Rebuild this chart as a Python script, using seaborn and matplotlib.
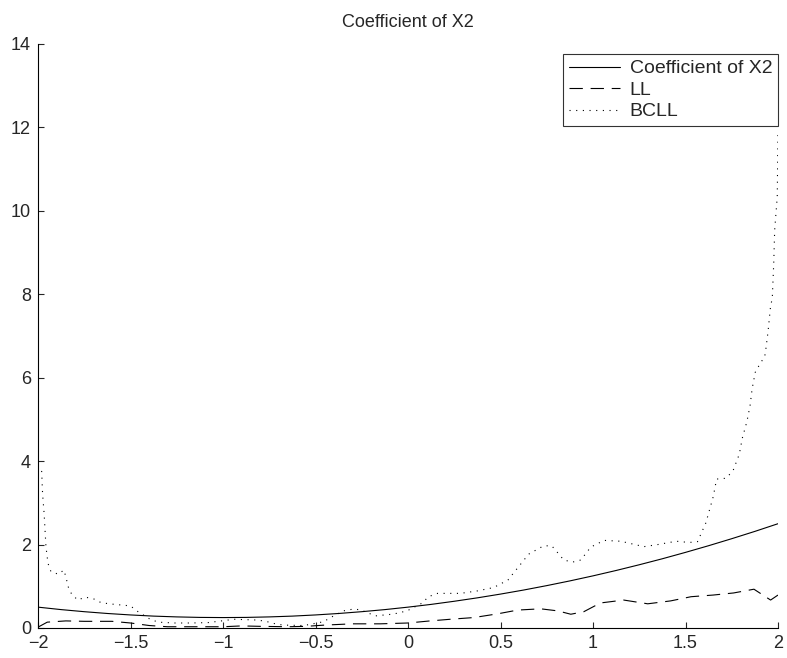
import numpy as np
import pandas as pd
import matplotlib
matplotlib.use("Agg")
import matplotlib.pyplot as plt
import seaborn as sns

# Coefficient of X2 (true curve)
x_true = [-2.0, -1.875, -1.75, -1.625, -1.5, -1.375, -1.25, -1.125, -1.0,
          -0.875, -0.75, -0.625, -0.5, -0.375, -0.25, -0.125, 0.0,
          0.125, 0.25, 0.375, 0.5, 0.625, 0.75, 0.875, 1.0,
          1.125, 1.25, 1.375, 1.5, 1.625, 1.75, 1.875, 2.0]
y_true = [0.50, 0.441, 0.391, 0.348, 0.313, 0.285, 0.266, 0.254, 0.25,
          0.254, 0.266, 0.285, 0.313, 0.348, 0.391, 0.441, 0.50,
          0.566, 0.641, 0.723, 0.813, 0.910, 1.016, 1.129, 1.25,
          1.379, 1.516, 1.660, 1.813, 1.973, 2.141, 2.316, 2.50]

# LL estimate
x_ll = [-2.0, -1.95, -1.85, -1.75, -1.6, -1.5, -1.4, -1.3, -1.15, -1.0,
        -0.9, -0.8, -0.65, -0.55, -0.45, -0.3, -0.15, 0.0, 0.12, 0.23,
        0.355, 0.485, 0.593, 0.717, 0.81, 0.88, 0.95, 1.04, 1.166, 1.296,
        1.42, 1.53, 1.65, 1.76, 1.87, 1.96, 2.0]
y_ll = [0.02, 0.14, 0.17, 0.16, 0.16, 0.12, 0.06, 0.03, 0.03, 0.03,
        0.05, 0.04, 0.03, 0.04, 0.07, 0.10, 0.10, 0.12, 0.17, 0.21,
        0.25, 0.34, 0.43, 0.46, 0.41, 0.33, 0.39, 0.60, 0.67, 0.58,
        0.65, 0.75, 0.79, 0.84, 0.93, 0.67, 0.79]

# BCLL estimate
x_bcll = [-2.0, -1.98, -1.977, -1.975, -1.967, -1.962, -1.957, -1.946, -1.93,
          -1.89, -1.86, -1.848, -1.836, -1.818, -1.785, -1.745, -1.70, -1.66,
          -1.616, -1.547, -1.50, -1.466, -1.394, -1.35, -1.26, -1.17, -1.08,
          -0.99, -0.944, -0.81, -0.76, -0.717, -0.674, -0.58, -0.55, -0.457,
          -0.41, -0.35, -0.30, -0.26, -0.176, -0.133, -0.086, -0.04, 0.003,
          0.078, 0.11, 0.16, 0.284, 0.376, 0.463, 0.54, 0.598, 0.652, 0.733,
          0.777, 0.81, 0.842, 0.89, 0.934, 0.988, 1.06, 1.15, 1.275, 1.35,
          1.45, 1.52, 1.565, 1.61, 1.65, 1.659, 1.668, 1.719, 1.757, 1.791,
          1.807, 1.832, 1.849, 1.86, 1.877, 1.906, 1.928, 1.935, 1.946, 1.96,
          1.969, 1.977, 1.982, 1.996, 2.0]
y_bcll = [3.9, 3.75, 3.4, 3.2, 2.75, 2.35, 1.95, 1.55, 1.35,
          1.29, 1.39, 1.2, 0.98, 0.81, 0.67, 0.74, 0.70, 0.61,
          0.58, 0.55, 0.53, 0.41, 0.21, 0.14, 0.12, 0.12, 0.13,
          0.18, 0.21, 0.19, 0.15, 0.10, 0.07, 0.06, 0.07, 0.15,
          0.27, 0.41, 0.45, 0.44, 0.29, 0.31, 0.33, 0.37, 0.43,
          0.60, 0.75, 0.83, 0.83, 0.89, 0.97, 1.15, 1.47, 1.77, 1.97,
          1.97, 1.80, 1.63, 1.58, 1.63, 1.94, 2.10, 2.08, 1.95, 2.0,
          2.08, 2.05, 2.07, 2.52, 3.15, 3.36, 3.57, 3.59, 3.77, 4.17,
          4.55, 4.95, 5.33, 5.73, 6.13, 6.36, 6.5, 6.71, 7.1, 7.72,
          7.9, 8.75, 9.54, 10.34, 11.94]

sns.set_style("ticks")
plt.rcParams["font.family"] = ["Liberation Sans", "DejaVu Sans"]

fig = plt.figure(figsize=(7.87, 6.58), dpi=100)
ax = fig.add_axes([38 / 787, 30 / 658, 740 / 787, 584 / 658])

sns.lineplot(x=x_true, y=y_true, ax=ax, color="black", lw=0.8,
             label="Coefficient of X2", estimator=None, sort=False)
sns.lineplot(x=x_ll, y=y_ll, ax=ax, color="black", lw=0.8,
             linestyle=(0, (12, 7)), label="LL", estimator=None, sort=False)
sns.lineplot(x=x_bcll, y=y_bcll, ax=ax, color="black", lw=0.8,
             linestyle=(0, (1, 5)), label="BCLL", estimator=None, sort=False)

ax.set_xlim(-2, 2)
ax.set_ylim(0, 14)
ax.set_xticks([-2, -1.5, -1, -0.5, 0, 0.5, 1, 1.5, 2])
ax.set_xticklabels(["\u22122", "\u22121.5", "\u22121", "\u22120.5", "0", "0.5", "1", "1.5", "2"])
ax.set_yticks(range(0, 15, 2))
ax.tick_params(direction="in", length=4.5, width=0.8, labelsize=13, pad=5)
sns.despine(ax=ax)
for s in ["left", "bottom"]:
    ax.spines[s].set_linewidth(0.8)
    ax.spines[s].set_color("black")

ax.set_title("Coefficient of X2", fontsize=13, pad=12)
ax.set_xlabel("")
ax.set_ylabel("")

leg = ax.legend(loc="upper right", bbox_to_anchor=(1.0, 0.983), fontsize=14,
                frameon=True, fancybox=False, handlelength=2.6,
                borderaxespad=0.0, labelspacing=0.2, handletextpad=0.5,
                borderpad=0.3)
leg.get_frame().set_edgecolor("black")
leg.get_frame().set_linewidth(0.8)

fig.savefig("out.png", dpi=100)
